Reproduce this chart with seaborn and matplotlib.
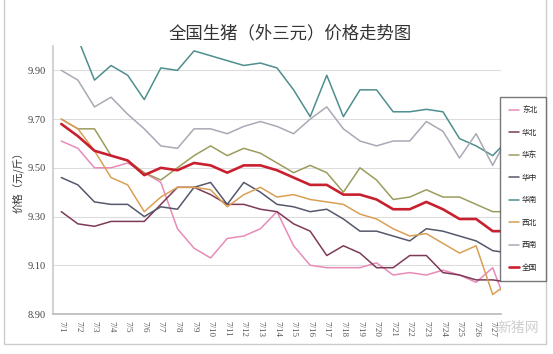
import matplotlib
matplotlib.use("Agg")
import matplotlib.pyplot as plt
from matplotlib.lines import Line2D
import numpy as np
import pandas as pd
import seaborn as sns

sns.set_theme(style="white")
plt.rcParams['font.family'] = ['Noto Sans CJK SC', 'DejaVu Sans']

# 7/1 .. 7/28 (last day only partly visible at the right edge)
dates = ["7/%d" % d for d in range(1, 29)]
regions = ["东北", "华北", "华东", "华中", "华南", "西北", "西南", "全国"]

dongbei = [9.61, 9.58, 9.50, 9.50, 9.52, 9.48, 9.44, 9.25, 9.17, 9.13, 9.21, 9.22, 9.25, 9.32,
           9.18, 9.10, 9.09, 9.09, 9.09, 9.11, 9.06, 9.07, 9.06, 9.08, 9.06, 9.03, 9.09, 8.91]
huabei = [9.32, 9.27, 9.26, 9.28, 9.28, 9.28, 9.35, 9.42, 9.42, 9.39, 9.35, 9.35, 9.33, 9.32,
          9.27, 9.24, 9.14, 9.18, 9.15, 9.09, 9.09, 9.14, 9.14, 9.07, 9.06, 9.04, 9.04, 9.03]
huadong = [9.70, 9.66, 9.66, 9.55, 9.53, 9.48, 9.45, 9.50, 9.55, 9.59, 9.55, 9.58, 9.56, 9.52,
           9.48, 9.51, 9.48, 9.40, 9.50, 9.45, 9.37, 9.38, 9.41, 9.38, 9.38, 9.35, 9.32, 9.32]
huazhong = [9.46, 9.43, 9.36, 9.35, 9.35, 9.30, 9.34, 9.33, 9.42, 9.44, 9.35, 9.44, 9.40, 9.35,
            9.34, 9.32, 9.33, 9.29, 9.24, 9.24, 9.22, 9.20, 9.25, 9.24, 9.22, 9.20, 9.16, 9.15]
huanan = [10.12, 10.03, 9.86, 9.92, 9.88, 9.78, 9.91, 9.90, 9.98, 9.96, 9.94, 9.92, 9.93, 9.91,
          9.82, 9.71, 9.88, 9.71, 9.82, 9.82, 9.73, 9.73, 9.74, 9.73, 9.62, 9.59, 9.55, 9.62]
xibei = [9.70, 9.66, 9.57, 9.46, 9.43, 9.32, 9.38, 9.42, 9.42, 9.41, 9.34, 9.39, 9.42, 9.38,
         9.39, 9.37, 9.36, 9.35, 9.31, 9.29, 9.25, 9.22, 9.23, 9.19, 9.15, 9.18, 8.98, 9.03]
xinan = [9.90, 9.86, 9.75, 9.79, 9.72, 9.66, 9.59, 9.58, 9.66, 9.66, 9.64, 9.67, 9.69, 9.67,
         9.64, 9.70, 9.75, 9.66, 9.61, 9.59, 9.61, 9.61, 9.69, 9.65, 9.54, 9.64, 9.51, 9.64]
quanguo = [9.68, 9.63, 9.57, 9.55, 9.53, 9.47, 9.50, 9.49, 9.52, 9.51, 9.48, 9.51, 9.51, 9.49,
           9.46, 9.43, 9.43, 9.39, 9.39, 9.37, 9.33, 9.33, 9.36, 9.33, 9.29, 9.29, 9.24, 9.24]

colors = {"东北": "#E88BB8", "华北": "#7E3A58", "华东": "#9C9C5E", "华中": "#55586A",
          "华南": "#4E8E8E", "西北": "#D9A055", "西南": "#A9A9B6", "全国": "#C8202F"}

df = pd.DataFrame({"x": np.arange(len(dates)), "东北": dongbei, "华北": huabei, "华东": huadong,
                   "华中": huazhong, "华南": huanan, "西北": xibei, "西南": xinan, "全国": quanguo})

fig = plt.figure(figsize=(5.53, 3.54), dpi=100)
ax = fig.add_axes([53 / 553, 1 - 314 / 354, 448 / 553, 268 / 354])

for r in regions:
    sns.lineplot(data=df, x="x", y=r, ax=ax, color=colors[r],
                 lw=1.9 if r == "全国" else 1.1, legend=False)

ax.set_ylim(8.9, 10.0)
ax.set_xlim(-0.5, 26.5)
ax.set_yticks([8.9, 9.1, 9.3, 9.5, 9.7, 9.9])
ax.set_yticklabels(["%.2f" % v for v in [8.9, 9.1, 9.3, 9.5, 9.7, 9.9]],
                   family="Liberation Serif", fontsize=7.5, color="#444444")
ax.set_xticks(np.arange(27))
ax.set_xticklabels(dates[:27], rotation=-90, family="Liberation Serif", fontsize=6.5, color="#555555")
ax.set_xticks(np.arange(-0.5, 27, 1), minor=True)
ax.tick_params(axis="x", which="major", length=0, pad=5)
ax.tick_params(axis="x", which="minor", length=3, color="#BBBBBB", direction="out")
ax.tick_params(axis="y", length=0, pad=5)
ax.grid(axis="y", color="#DDDDDD", lw=0.8)
ax.set_axisbelow(True)
for s in ["top", "right"]:
    ax.spines[s].set_visible(False)
ax.spines["left"].set_color("#CCCCCC")
ax.spines["bottom"].set_color("#BBBBBB")
ax.set_xlabel("")
ax.set_ylabel("价格（元/斤）", fontsize=7.5, color="#333333", labelpad=3)

fig.text(0.525, 0.905, "全国生猪（外三元）价格走势图", ha="center", va="center",
         fontsize=12.5, color="#333333")

handles = [Line2D([], [], color=colors[r], lw=1.9 if r == "全国" else 1.1) for r in regions]
leg = fig.legend(handles, regions, loc="center", bbox_to_anchor=(0.946, 0.466),
                 fontsize=5.5, labelspacing=1.9, handlelength=1.3, handletextpad=0.4,
                 borderpad=1.2, frameon=True, fancybox=False)
leg.get_frame().set_edgecolor("#555555")
leg.get_frame().set_linewidth(1.0)

# chart border
fig.add_artist(Line2D([4 / 553, 4 / 553], [1 - 344 / 354, 1.0], color="#CCCCCC", lw=1))
fig.add_artist(Line2D([4 / 553, 546 / 553], [1 - 344 / 354, 1 - 344 / 354], color="#CCCCCC", lw=1))
fig.add_artist(Line2D([546 / 553, 546 / 553], [1 - 344 / 354, 1.0], color="#CCCCCC", lw=1))

fig.text(0.937, 0.075, "新猪网", ha="center", va="center", fontsize=10, color="#CFCFCF")

fig.savefig("out.png", dpi=100)
